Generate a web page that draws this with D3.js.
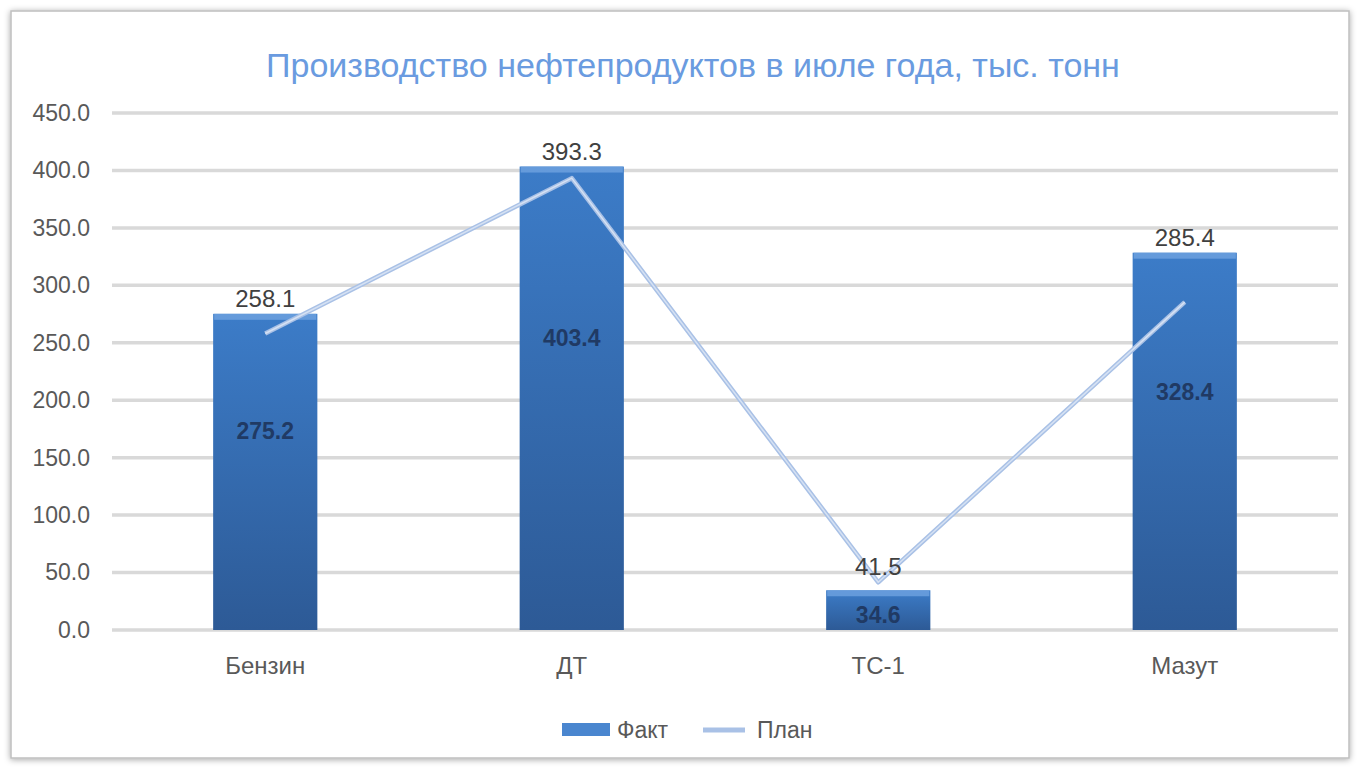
<!DOCTYPE html>
<html><head><meta charset="utf-8">
<script src="https://cdn.jsdelivr.net/npm/d3@7"></script>
<style>
html,body{margin:0;padding:0;background:#fff;}
svg{display:block;font-family:"Liberation Sans",Arial,sans-serif;}
</style></head>
<body>
<svg id="chart" width="1360" height="767"></svg>
<script>
const categories = ["Бензин", "ДТ", "ТС-1", "Мазут"];
const factValues = [275.2, 403.4, 34.6, 328.4];
const planValues = [258.1, 393.3, 41.5, 285.4];
const yTicks = [0, 50, 100, 150, 200, 250, 300, 350, 400, 450];
const seriesNames = ["Факт", "План"];
const titleText = "Производство нефтепродуктов в июле года, тыс. тонн";

const svg = d3.select("#chart");
const W = 1360, H = 767;

const defs = svg.append("defs");
const sh = defs.append("filter").attr("id","shadow").attr("x","-5%").attr("y","-5%").attr("width","110%").attr("height","110%");
sh.append("feDropShadow").attr("dx",0).attr("dy",1).attr("stdDeviation",3).attr("flood-color","#000").attr("flood-opacity",0.35);
const g1 = defs.append("linearGradient").attr("id","barGrad").attr("x1",0).attr("y1",0).attr("x2",0).attr("y2",1);
g1.append("stop").attr("offset","0%").attr("stop-color","#3c7cc8");
g1.append("stop").attr("offset","100%").attr("stop-color","#2d5a96");

// frame
svg.append("rect").attr("x",11).attr("y",11).attr("width",1338).attr("height",747)
  .attr("fill","#fff").attr("stroke","#bfbfbf").attr("stroke-width",1.5).attr("filter","url(#shadow)");

const margin = {left:112, right:22, top:113, bottom:137};
const x = d3.scaleBand().domain(categories).range([margin.left, W - margin.right]).paddingInner(0.66).paddingOuter(0.33);
const y = d3.scaleLinear().domain([0, 450]).range([H - margin.bottom, margin.top]);

// title
svg.append("text").attr("x",693).attr("y",77).attr("text-anchor","middle")
  .attr("font-size",34).attr("fill","#6a9be0").text(titleText);

// gridlines
svg.append("g").selectAll("line").data(yTicks).join("line")
  .attr("x1",margin.left).attr("x2",W - margin.right)
  .attr("y1",d=>y(d)).attr("y2",d=>y(d))
  .attr("stroke","#d9d9d9").attr("stroke-width",3.5);

// y axis
const yAxis = d3.axisLeft(y).tickValues(yTicks).tickFormat(d3.format(".1f")).tickSize(0).tickPadding(22);
const ya = svg.append("g").attr("transform",`translate(${margin.left},0)`).call(yAxis);
ya.select(".domain").remove();
ya.selectAll("text").attr("font-size",23).attr("fill","#595959").attr("font-family","Liberation Sans, Arial, sans-serif");

// x axis
const xAxis = d3.axisBottom(x).tickSize(0).tickPadding(27);
const xa = svg.append("g").attr("transform",`translate(0,${y(0)})`).call(xAxis);
xa.select(".domain").remove();
xa.selectAll("text").attr("font-size",24).attr("fill","#595959").attr("font-family","Liberation Sans, Arial, sans-serif");

// bars
const bw = x.bandwidth();
const bars = svg.append("g");
bars.selectAll("rect.bar").data(categories).join("rect").attr("class","bar")
  .attr("x",d=>x(d)).attr("width",bw)
  .attr("y",(d,i)=>y(factValues[i])).attr("height",(d,i)=>y(0)-y(factValues[i]))
  .attr("fill","url(#barGrad)");
bars.selectAll("rect.hl").data(categories).join("rect").attr("class","hl")
  .attr("x",d=>x(d)+1).attr("width",bw-2)
  .attr("y",(d,i)=>y(factValues[i])).attr("height",6)
  .attr("fill","#6fa3e0").attr("opacity",0.8);

// plan line
const line = d3.line().x((d,i)=>x(categories[i]) + bw/2).y(d=>y(d));
svg.append("path").datum(planValues).attr("d",line).attr("fill","none")
  .attr("stroke","#a9c1e6").attr("stroke-width",4.5).attr("stroke-linejoin","round");
svg.append("path").datum(planValues).attr("d",line).attr("fill","none")
  .attr("stroke","#d5e1f3").attr("stroke-width",1.5).attr("stroke-linejoin","round");

// fact labels (inside)
svg.append("g").selectAll("text").data(categories).join("text")
  .attr("x",d=>x(d)+bw/2)
  .attr("y",(d,i)=>{const t=y(factValues[i]),h=y(0)-t;return t+(h<80?h*0.62:h*0.37)+8;})
  .attr("text-anchor","middle").attr("font-size",23).attr("font-weight","bold").attr("fill","#203a64")
  .text((d,i)=>factValues[i].toFixed(1));

// plan labels (above)
svg.append("g").selectAll("text").data(categories).join("text")
  .attr("x",d=>x(d)+bw/2)
  .attr("y",(d,i)=>Math.min(y(factValues[i]),y(planValues[i]))-7)
  .attr("text-anchor","middle").attr("font-size",24).attr("fill","#404040")
  .text((d,i)=>planValues[i].toFixed(1));

// legend
const lg = svg.append("g");
lg.append("rect").attr("x",562).attr("y",723).attr("width",48).attr("height",13).attr("fill","#4a86cf");
lg.append("text").attr("x",617).attr("y",738).attr("font-size",23).attr("fill","#595959").text(seriesNames[0]);
lg.append("line").attr("x1",703).attr("x2",745).attr("y1",730).attr("y2",730).attr("stroke","#a9c1e6").attr("stroke-width",5);
lg.append("text").attr("x",757).attr("y",738).attr("font-size",23).attr("fill","#595959").text(seriesNames[1]);
</script>
</body></html>
